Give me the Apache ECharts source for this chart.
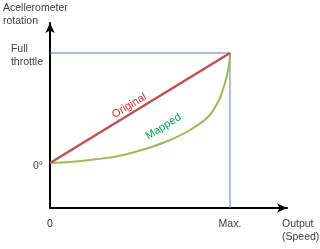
<!DOCTYPE html>
<html>
<head>
<meta charset="utf-8">
<script src="https://cdn.jsdelivr.net/npm/echarts@6/dist/echarts.min.js"></script>
<style>html,body{margin:0;padding:0;background:#fff}#c{width:320px;height:249px}</style>
</head>
<body>
<div id="c"></div>
<script>
// Axis extents (data units)
const xMin = 0, xMax = 131.67;
const yMin = -40.91, yMax = 127.27;
// Tick positions and labels
const xTicks = [0, 100];
const xTickLabels = ['0', 'Max.'];
const yTicks = [0, 100];
const yTickLabels = ['0°', 'Full\nthrottle'];
// Axis titles
const yAxisTitle = 'Acellerometer\nrotation';
const xAxisTitle = 'Output\n(Speed)';
// Guides
const fullThrottle = 100;
const maxOutput = 100;
// Series
const originalX = [0, 100];
const originalY = [0, 100];
const mappedX = [0, 8.3, 17.2, 26.7, 36.1, 45, 55.6, 66.7, 77.8, 87.8, 93.9, 97.2, 99.3, 100];
const mappedY = [0, 0.6, 1.8, 3.6, 5.7, 9.1, 14.1, 20.9, 30, 41.8, 57.3, 72.7, 87.3, 100];
const seriesNames = ['Original', 'Mapped'];

const FONT = 'Liberation Sans';
const FS = 10.5;
const TXT = '#404040';

const chart = echarts.init(document.getElementById('c'), null, {renderer: 'canvas'});
const grid = {left: 50, right: 33, top: 23, bottom: 41};

function lbl(arrTicks, arrLabels) {
  return function (v) {
    const i = arrTicks.indexOf(v);
    if (i < 0) return '';
    return arrLabels[i].split('\n').map(s => '{l|' + s + '}').join('\n');
  };
}

const fontStr = FS + 'px "' + FONT + '"';

chart.setOption({
  animation: false,
  grid: grid,
  xAxis: {
    type: 'value', min: xMin, max: xMax,
    splitLine: {show: false}, axisTick: {show: false},
    axisLine: {onZero: false, lineStyle: {color: '#000', width: 2}, symbol: ['none', 'arrow'], symbolSize: [7, 10]},
    axisLabel: {customValues: xTicks, formatter: lbl(xTicks, xTickLabels), margin: 11, color: TXT, fontFamily: FONT, fontSize: FS,
      rich: {l: {color: TXT, fontFamily: FONT, fontSize: FS}}}
  },
  yAxis: {
    type: 'value', min: yMin, max: yMax,
    splitLine: {show: false}, axisTick: {show: false},
    axisLine: {onZero: false, lineStyle: {color: '#000', width: 2}, symbol: ['none', 'arrow'], symbolSize: [7, 10]},
    axisLabel: {customValues: yTicks, formatter: lbl(yTicks, yTickLabels), margin: 7, color: TXT, fontFamily: FONT, fontSize: FS, lineHeight: 13,
      padding: [6, 0, 0, 0],
      rich: {l: {color: TXT, fontFamily: FONT, fontSize: FS, lineHeight: 13, align: 'left'}}}
  },
  series: [
    {
      type: 'line', silent: true, symbol: 'none',
      data: [[xMin, fullThrottle], [maxOutput, fullThrottle], [maxOutput, yMin]],
      lineStyle: {color: '#4f81bd', width: 1}, z: 1
    },
    {
      name: seriesNames[0], type: 'line', symbol: 'none',
      data: originalX.map((x, i) => [x, originalY[i]]),
      lineStyle: {color: '#c0504d', width: 2.5}, z: 3
    },
    {
      name: seriesNames[1], type: 'line', symbol: 'none', smooth: 0.3,
      data: mappedX.map((x, i) => [x, mappedY[i]]),
      lineStyle: {color: '#9bbb59', width: 2}, z: 2
    }
  ]
});

// series labels placed via the chart's own coordinate conversion
const pO = chart.convertToPixel({gridIndex: 0}, [44, 52]);
const pM = chart.convertToPixel({gridIndex: 0}, [63, 33]);
chart.setOption({
  graphic: [
    {type: 'text', left: 3, top: 2, style: {text: yAxisTitle, fill: TXT, font: fontStr, lineHeight: 13}},
    {type: 'text', left: 282, top: 218, style: {text: xAxisTitle, fill: TXT, font: fontStr, lineHeight: 13}},
    {type: 'text', x: pO[0], y: pO[1], rotation: 31 * Math.PI / 180,
      style: {text: seriesNames[0], fill: '#e0302c', font: '11px "' + FONT + '"', align: 'center', verticalAlign: 'middle'}},
    {type: 'text', x: pM[0], y: pM[1], rotation: 32 * Math.PI / 180,
      style: {text: seriesNames[1], fill: '#00a651', font: '11px "' + FONT + '"', align: 'center', verticalAlign: 'middle'}}
  ]
});
</script>
</body>
</html>
